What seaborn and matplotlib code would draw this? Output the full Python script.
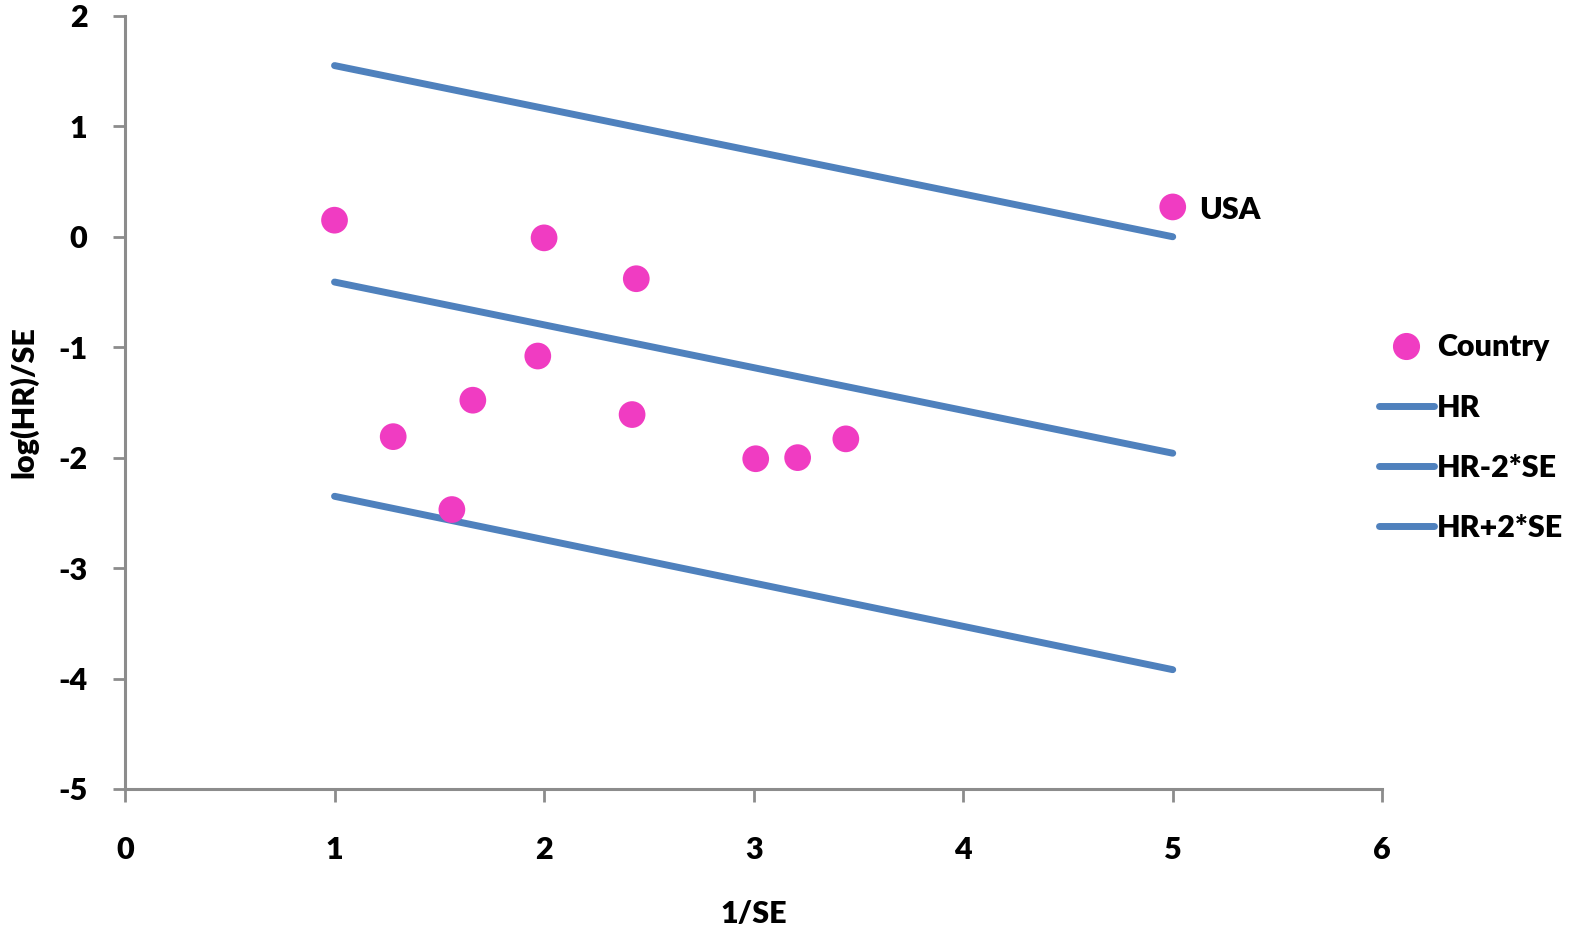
import matplotlib
matplotlib.use("Agg")
import matplotlib.pyplot as plt
import seaborn as sns
import pandas as pd
from matplotlib.lines import Line2D

# Country points (x = 1/SE, y = log(HR)/SE)
country_x = [1.00, 2.00, 2.44, 1.97, 1.66, 1.28, 2.42, 3.01, 3.21, 3.44, 1.56, 5.00]
country_y = [0.15, -0.01, -0.38, -1.08, -1.48, -1.81, -1.61, -2.01, -2.00, -1.83, -2.47, 0.27]

# reference lines, drawn between two ends
line_x = [1, 5]
hr_y = [-0.41, -1.96]
hr_minus_y = [-2.35, -3.92]
hr_plus_y = [1.55, 0.00]

line_names = ["HR", "HR-2*SE", "HR+2*SE"]
line_vals = [hr_y, hr_minus_y, hr_plus_y]

pink = "#F03CC2"
blue = "#4F81BD"
grey = "#8C8C8C"

sns.set_theme(style="white")
plt.rcParams["font.family"] = ["Lato", "DejaVu Sans"]
plt.rcParams["font.weight"] = "bold"
plt.rcParams["axes.unicode_minus"] = False
plt.rcParams["text.color"] = "black"
plt.rcParams["axes.labelcolor"] = "black"
plt.rcParams["xtick.labelcolor"] = "black"
plt.rcParams["ytick.labelcolor"] = "black"

pts = pd.DataFrame({"x": country_x, "y": country_y})
lines = pd.DataFrame({
    "x": line_x * len(line_names),
    "y": [v for vals in line_vals for v in vals],
    "series": [n for n in line_names for _ in line_x],
})

fig = plt.figure(figsize=(15.74, 9.34), dpi=100)
ax = fig.add_axes([0.0794, 0.1553, 0.7988, 0.8277])

sns.lineplot(data=lines, x="x", y="y", hue="series", palette=[blue] * 3,
             linewidth=5, ax=ax, legend=False, zorder=2)
sns.scatterplot(data=pts, x="x", y="y", color=pink, s=370, edgecolor="none",
                ax=ax, zorder=3)

ax.annotate("USA", (country_x[-1], country_y[-1]), xytext=(19, -2),
            textcoords="offset points", va="center", ha="left",
            fontsize=22, fontweight="heavy")

ax.set_xlim(0, 6)
ax.set_ylim(-5, 2)
ax.set_xticks(range(0, 7))
ax.set_yticks(range(-5, 3))
ax.set_xlabel("1/SE", fontsize=22, fontweight="heavy", labelpad=26)
ax.set_ylabel("log(HR)/SE", fontsize=22, fontweight="heavy", labelpad=14)

for side in ["top", "right"]:
    ax.spines[side].set_visible(False)
for side in ["left", "bottom"]:
    ax.spines[side].set_color(grey)
    ax.spines[side].set_linewidth(2.2)

ax.tick_params(axis="x", direction="out", length=9, width=2, color=grey,
               labelsize=22, pad=25, bottom=True)
ax.tick_params(axis="y", direction="out", length=9, width=2, color=grey,
               labelsize=22, pad=18, left=True)
for lab in ax.get_xticklabels() + ax.get_yticklabels():
    lab.set_fontweight("heavy")

handles = [Line2D([], [], marker="o", color=pink, linestyle="none", markersize=18.5)]
handles += [Line2D([], [], color=blue, linewidth=5) for _ in line_names]
leg = fig.legend(handles, ["Country"] + line_names, loc="upper left",
                 bbox_to_anchor=(0.876, 0.643), frameon=False, fontsize=22,
                 handlelength=1.8, handletextpad=0.1, labelspacing=1.05,
                 borderpad=0, borderaxespad=0)
for t in leg.get_texts():
    t.set_fontweight("heavy")

fig.savefig("out.png", dpi=100)
